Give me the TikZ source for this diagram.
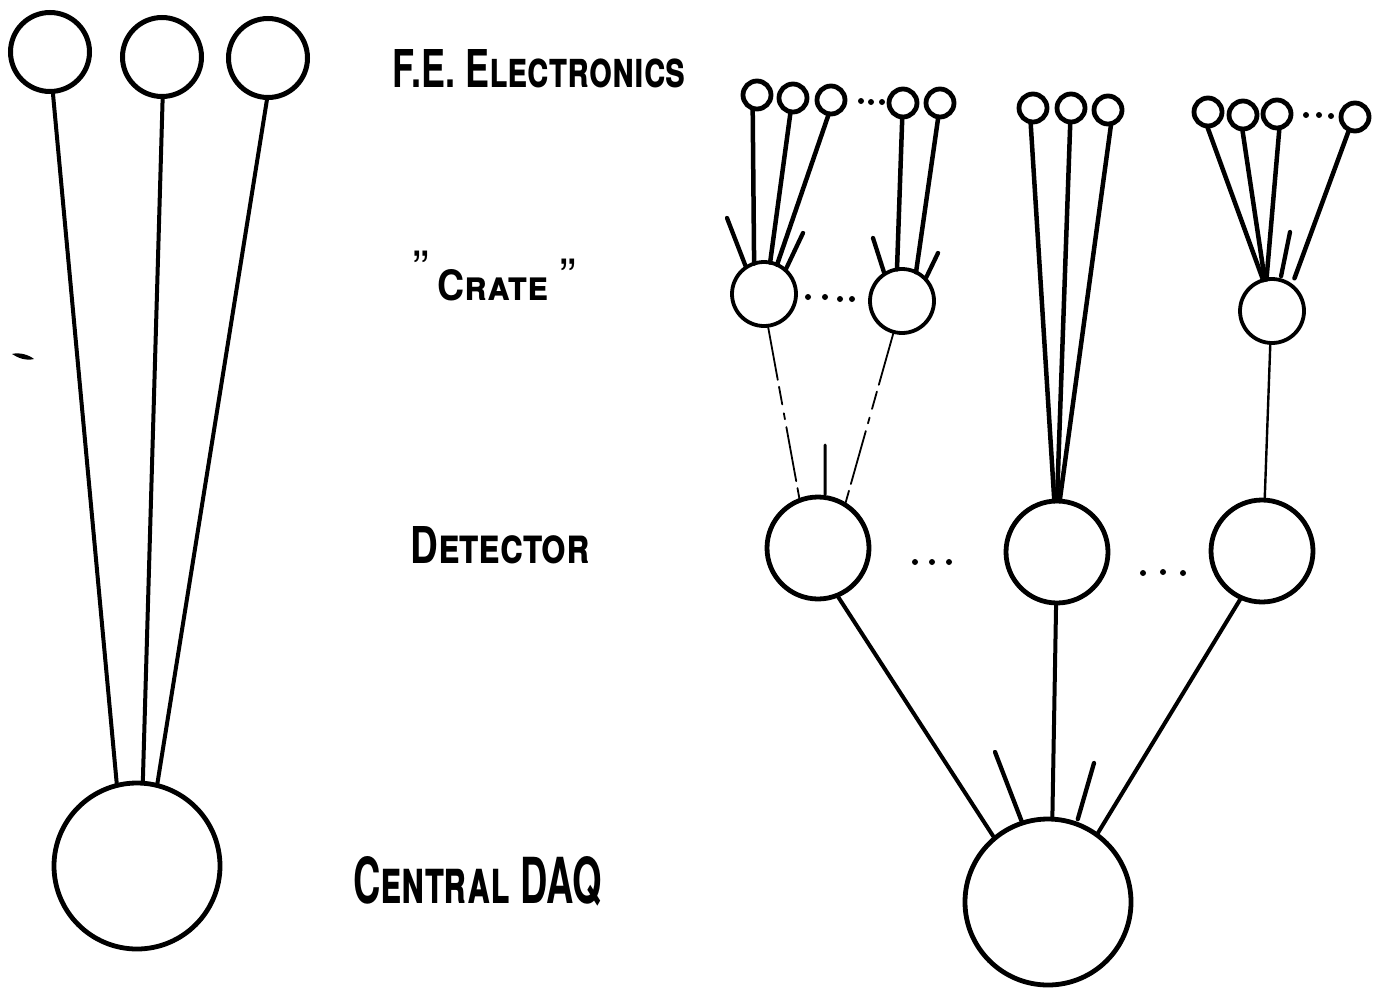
\documentclass[tikz,border=0pt]{standalone}
\usepackage{fontspec}
\setmainfont{TeX Gyre Heros}
\begin{document}
\begin{tikzpicture}[x=1pt,y=-1pt,line cap=round]
\tikzset{
  ring/.style={circle, draw=black, inner sep=0pt, outer sep=0pt},
  bigfe/.style={ring, minimum size=79pt, line width=5pt},
  fe/.style={ring, minimum size=28pt, line width=4.8pt},
  cratebox/.style={ring, minimum size=64pt, line width=3.8pt},
  det/.style={ring, minimum size=102pt, line width=4.8pt},
  daq/.style={ring, minimum size=166pt, line width=4.8pt},
  link/.style={line width=4pt},
  felink/.style={line width=4.5pt},
  stub/.style={line width=4.3pt},
  faint/.style={line width=1.8pt, dash pattern=on 55pt off 7pt on 18pt off 9pt on 6pt off 8pt},
  dot/.style={circle, fill=black, inner sep=0pt, minimum size=6pt},
  lbl/.style={anchor=base west, inner sep=0pt},
  quote/.style={lbl, font=\fontsize{50}{50}\selectfont}
}
\useasboundingbox (0,0) rectangle (1381,996);

% ---------- left: direct readout ----------
\node[bigfe] (l1) at (50,52) {};
\node[bigfe] (l2) at (162,57) {};
\node[bigfe] (l3) at (268,58) {};
\node[daq]   (L)  at (137,866) {};
\draw[link] (l1.-86) -- (L.104);
\draw[link] (l2.-89) -- (L.86);
\draw[link] (l3.-91) -- (L.76);
% pencil mark
\fill (12,354) .. controls (20,352) and (29,355) .. (34,359)
      .. controls (26,361) and (18,358) .. cycle;

% ---------- labels ----------
\node[lbl] (tfe) at (392,87) {\resizebox{293pt}{38pt}{\bfseries\scshape F.E. Electronics}};
\node[quote] (tq1) at (412,286) {"};
\node[lbl] (tcr) at (437,300) {\resizebox{111pt}{31pt}{\bfseries\scshape Crate}};
\node[quote] (tq2) at (559,294) {"};
\node[lbl] (tdet) at (410,563) {\resizebox{180pt}{37pt}{\bfseries\scshape Detector}};
\node[lbl] (tdaq) at (353,903) {\resizebox{249pt}{47pt}{\bfseries\scshape Central DAQ}};

% ---------- right: hierarchical readout ----------
% front-end electronics
\node[fe] (f11) at (757,95) {};
\node[fe] (f12) at (793,98) {};
\node[fe] (f13) at (831,100) {};
\node[fe] (f14) at (903,103) {};
\node[fe] (f15) at (940,103) {};
\node[dot] (d11) at (861,101) {};
\node[dot] (d12) at (871,102) {};
\node[dot] (d13) at (882,102) {};

\node[fe] (f21) at (1033,108) {};
\node[fe] (f22) at (1071,108) {};
\node[fe] (f23) at (1108,110) {};

\node[fe] (f31) at (1208,112) {};
\node[fe] (f32) at (1243,115) {};
\node[fe] (f33) at (1277,114) {};
\node[fe] (f34) at (1355,117) {};
\node[dot] (d31) at (1306,115) {};
\node[dot] (d32) at (1319,115) {};
\node[dot] (d33) at (1331,116) {};

% crates
\node[cratebox] (cr1) at (764,294) {};
\node[cratebox] (cr2) at (902,301) {};
\node[cratebox] (cr3) at (1272,311) {};
\node[dot] (d21) at (808,297) {};
\node[dot] (d22) at (825,297) {};
\node[dot] (d23) at (840,299) {};
\node[dot] (d24) at (852,299) {};

% detectors
\node[det] (det1) at (818,548) {};
\node[det] (det2) at (1057,552) {};
\node[det] (det3) at (1262,551) {};
\node[dot] (e1) at (915,562) {};
\node[dot] (e2) at (932,562) {};
\node[dot] (e3) at (949,562) {};
\node[dot] (e4) at (1143,573) {};
\node[dot] (e5) at (1163,572) {};
\node[dot] (e6) at (1183,573) {};

% central DAQ
\node[daq] (R) at (1048,902) {};

% front-end -> crate / detector
\draw[felink] (f11.-108) -- (cr1.108);
\draw[felink] (f12.-100) -- (cr1.79);
\draw[felink] (f13.-99) -- (cr1.66);
\draw[felink] (f14.-93) -- (cr2.99);
\draw[felink] (f15.-97) -- (cr2.64);

\draw[felink] (f21.-100) -- (det2.93);
\draw[felink] (f22.-93) -- (det2.90);
\draw[felink] (f23.-77) -- (det2.87);

\draw[felink] (f31.-94) -- (cr3.106);
\draw[felink] (f32.-93) -- (cr3.103);
\draw[felink] (f33.-80) -- (cr3.100);
\draw[felink, shorten >=8pt] (f34.-115) -- (cr3.52);

% unconnected inputs
\coordinate (s11) at (727,218);
\coordinate (s12) at (803,233);
\coordinate (s21) at (873,238);
\coordinate (s22) at (938,253);
\coordinate (s31) at (1290,232);
\coordinate (s41) at (825,445);
\coordinate (s51) at (995,752);
\coordinate (s52) at (1094,763);
\draw[stub, shorten >=2pt] (s11) -- (cr1.124);
\draw[stub, shorten >=2pt] (s12) -- (cr1.48);
\draw[stub, shorten >=2pt] (s21) -- (cr2.123);
\draw[stub, shorten >=2pt] (s22) -- (cr2.43);
\draw[stub, shorten >=4pt] (s31) -- (cr3.75);
\draw[line width=3pt, shorten >=3pt] (s41) -- (det1.82);
\draw[stub] (s51) -- (R.108);
\draw[stub, shorten >=5pt] (s52) -- (R.70);

% crate -> detector
\draw[faint] (cr1.-83) -- (det1.111);
\draw[faint] (cr2.-105) -- (det1.58);
\draw[line width=2.4pt] (cr3.-93) -- (det3.87);

% detector -> central DAQ
\draw[link] (det1.-68) -- (R.130);
\draw[link] (det2.-91) -- (R.87);
\draw[link] (det3.-114) -- (R.54);
\end{tikzpicture}
\end{document}
